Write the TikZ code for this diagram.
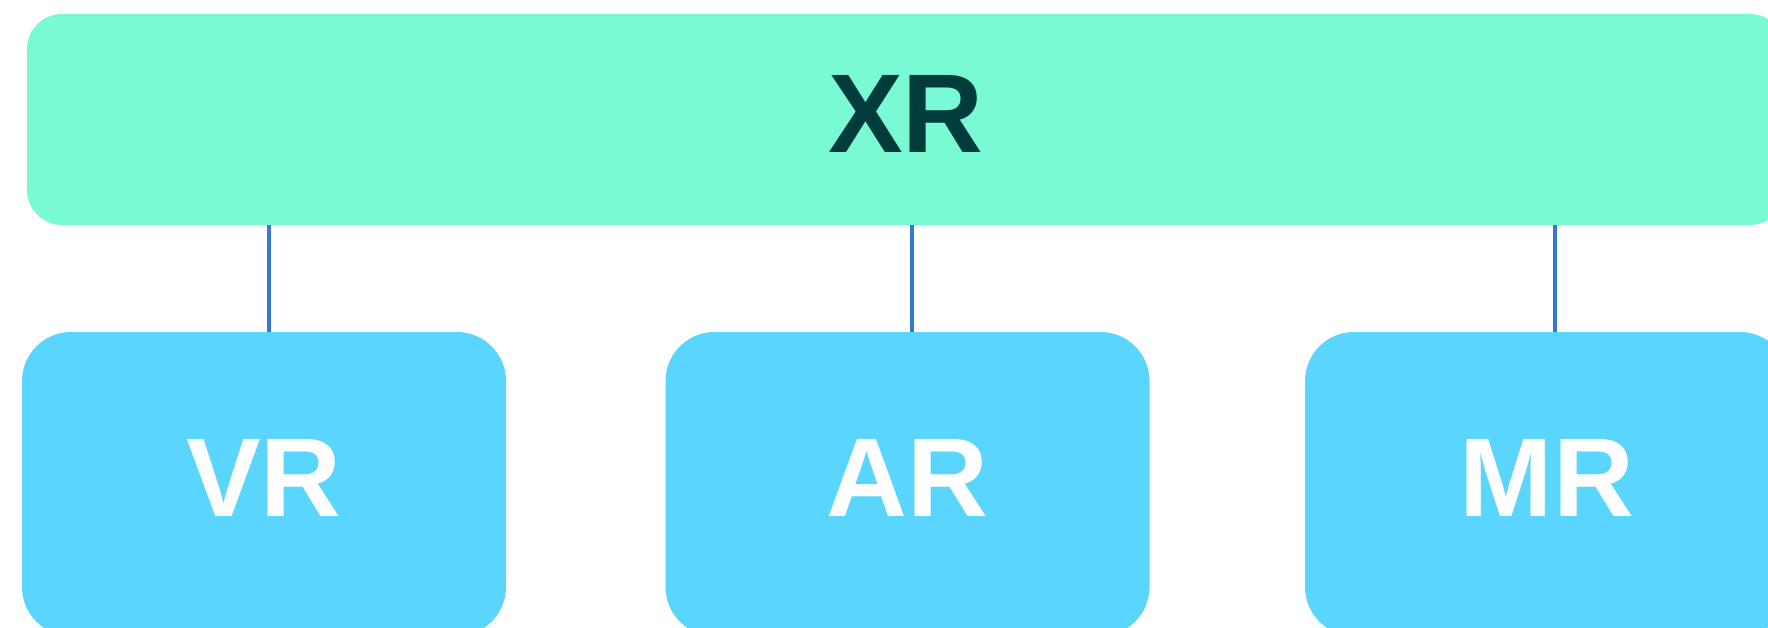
\documentclass[tikz,border=0pt]{standalone}
\usepackage{fontspec}
\setmainfont{Liberation Sans}
\usepackage{tikz}
\usetikzlibrary{calc}
\definecolor{xrgreen}{RGB}{122,250,212}
\definecolor{xrtext}{RGB}{0,60,60}
\definecolor{subblue}{RGB}{90,213,254}
\definecolor{linkblue}{RGB}{52,120,220}
\tikzset{
	topbox/.style={fill=xrgreen, rounded corners=17.5pt, inner sep=0pt, minimum width=879pt, minimum height=105.5pt, text depth=5.5pt, font=\fontsize{56}{60}\selectfont\bfseries, text=xrtext},
	subbox/.style={fill=subblue, rounded corners=24.5pt, inner sep=0pt, minimum width=242pt, minimum height=152pt, text depth=6pt, font=\fontsize{56}{60}\selectfont\bfseries, text=white},
	link/.style={line width=2pt, color=linkblue}
}

\begin{document}
\begin{tikzpicture}[x=0.5pt, y=-0.5pt]
			%%%%% START %%%%%
			\useasboundingbox (0, 0) rectangle (1768, 627);
			
			\node[topbox] (xr) at (906, 119.5) {XR};
			
			\node[subbox] (vr) at (264, 484) {VR};
			\node[subbox] (ar) at (907.5, 484) {AR};
			\node[subbox] (mr) at (1547, 484) {MR};
			
			\draw[link] ([xshift=2.5pt]vr.north) -- ([xshift=2.5pt]vr.north |- xr.south);
			\draw[link] ([xshift=2.25pt]ar.north) -- ([xshift=2.25pt]ar.north |- xr.south);
			\draw[link] ([xshift=4pt]mr.north) -- ([xshift=4pt]mr.north |- xr.south);
			
			%%%%% END %%%%%
		\end{tikzpicture}
\end{document}
